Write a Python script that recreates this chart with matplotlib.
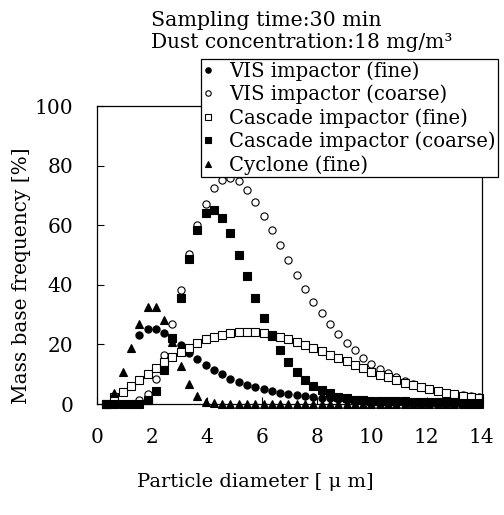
import matplotlib
matplotlib.use("Agg")
import matplotlib.pyplot as plt

# particle diameter grid [um]
diameter = [0.34, 0.64, 0.94, 1.24, 1.54, 1.85, 2.15, 2.45, 2.75, 3.05,
            3.35, 3.66, 3.96, 4.26, 4.56, 4.86, 5.16, 5.47, 5.77, 6.07,
            6.37, 6.67, 6.97, 7.28, 7.58, 7.88, 8.18, 8.48, 8.78, 9.09,
            9.39, 9.69, 9.99, 10.29, 10.59, 10.90, 11.20, 11.50, 11.80, 12.10,
            12.40, 12.71, 13.01, 13.31, 13.61, 13.91]

vis_fine = [0, 0, 0, 0, 23.3, 25.1, 25.1, 23.9, 21.5, 19.8,
            17.2, 15.1, 13.2, 11.5, 10.1, 8.5, 7.4, 6.5, 5.6, 4.9,
            4.3, 3.8, 3.3, 3.0, 2.7, 2.4, 2.1, 1.9, 1.7, 1.5,
            1.3, 1.2, 1.1, 1.0, 1.0, 0.9, 0.9, 0.8, 0.8, 0.7,
            0.7, 0.7, 0.6, 0.6, 0.6, 0.5]

vis_coarse = [0, 0, 0, 0, 1.2, 3.5, 8.5, 16.4, 26.8, 38.2,
              50.5, 60.0, 67.2, 72.4, 75.2, 75.7, 74.9, 71.8, 67.9, 63.1,
              58.4, 53.4, 48.3, 43.3, 38.6, 34.2, 30.4, 26.7, 23.5, 20.4,
              18.1, 15.5, 13.4, 11.7, 10.3, 9.0, 7.7, 6.6, 5.8, 4.9,
              4.5, 3.8, 3.2, 3.0, 2.7, 2.5]

cascade_fine = [0, 2.2, 4.1, 6.2, 8.2, 10.1, 12.1, 14.0, 15.7, 17.3,
                18.9, 20.4, 21.7, 22.4, 23.0, 23.7, 24.1, 24.2, 24.2, 23.8,
                23.2, 22.4, 21.7, 20.9, 19.8, 18.8, 17.7, 16.6, 15.5, 14.3,
                13.2, 12.1, 10.9, 9.8, 8.9, 8.0, 7.1, 6.3, 5.6, 5.0,
                4.4, 3.8, 3.4, 2.7, 2.3, 2.0]

cascade_coarse = [0, 0, 0, 0, 0, 1.3, 4.3, 11.4, 22.0, 35.5,
                  48.6, 58.4, 64.0, 65.1, 62.5, 57.3, 50.1, 42.8, 35.5, 28.8,
                  22.8, 18.1, 14.2, 10.8, 8.2, 6.1, 4.7, 3.6, 2.4, 2.1,
                  1.5, 1.3, 1.1, 1.0, 1.0, 0.9, 0.9, 0.8, 0.8, 0.7,
                  0.7, 0.6, 0.6, 0.5, 0.5, 0.5]

cyclone_fine = [0, 3.8, 10.7, 18.8, 26.8, 32.4, 32.4, 28.3, 20.9, 12.8,
                6.7, 2.6, 0.6, 0.3, 0, 0, 0, 0, 0, 0,
                0, 0, 0, 0, 0, 0, 0, 0, 0, 0,
                0, 0, 0, 0, 0, 0, 0, 0, 0, 0,
                0, 0, 0, 0, 0, 0]

x_ticks = [0, 2, 4, 6, 8, 10, 12, 14]
y_ticks = [0, 20, 40, 60, 80, 100]

plt.rcParams['font.family'] = ['DejaVu Serif']
plt.rcParams['font.size'] = 14.5

fig = plt.figure(figsize=(5.04, 5.15), dpi=100)
ax = fig.add_axes([0.1919, 0.2155, 0.7639, 0.5786])

series = [
    (vis_fine, 'o', 'black', 'VIS impactor (fine)'),
    (vis_coarse, 'o', 'white', 'VIS impactor (coarse)'),
    (cascade_fine, 's', 'white', 'Cascade impactor (fine)'),
    (cascade_coarse, 's', 'black', 'Cascade impactor (coarse)'),
    (cyclone_fine, '^', 'black', 'Cyclone (fine)'),
]
for values, mk, face, label in series:
    ax.plot(diameter, values, linestyle='none', marker=mk, markersize=5.2,
            markerfacecolor=face, markeredgecolor='black', markeredgewidth=0.8,
            clip_on=False, label=label)

ax.set_xlim(0, 14)
ax.set_ylim(0, 100)
ax.set_xticks(x_ticks)
ax.set_yticks(y_ticks)
ax.tick_params(direction='in', length=5, width=0.8, labelsize=14.5)
ax.tick_params(axis='x', pad=17)
ax.tick_params(axis='y', pad=17)
for sp in ax.spines.values():
    sp.set_linewidth(0.9)

leg = ax.legend(loc='upper left', bbox_to_anchor=(201 / 504, 1 - 58.5 / 515),
                bbox_transform=fig.transFigure, fontsize=14.1, frameon=True,
                fancybox=False, edgecolor='black', framealpha=1,
                borderpad=0.12, handlelength=0.5, handletextpad=0.8,
                labelspacing=0.2, markerscale=0.75, borderaxespad=0)
leg.get_frame().set_linewidth(0.9)
leg.set_zorder(5)

fig.text(151 / 504, 1 - 20 / 515, 'Sampling time:30 min', fontsize=14.8,
         ha='left', va='center')
fig.text(151 / 504, 1 - 43 / 515, 'Dust concentration:18 mg/m³', fontsize=14.5,
         ha='left', va='center')
fig.text(22 / 504, 1 - 276 / 515, 'Mass base frequency [%]', fontsize=14.5,
         rotation=90, ha='center', va='center')
fig.text(255 / 504, 1 - 482 / 515, 'Particle diameter [ μ m]', fontsize=14,
         ha='center', va='center')

fig.savefig('out.png', dpi=100)
